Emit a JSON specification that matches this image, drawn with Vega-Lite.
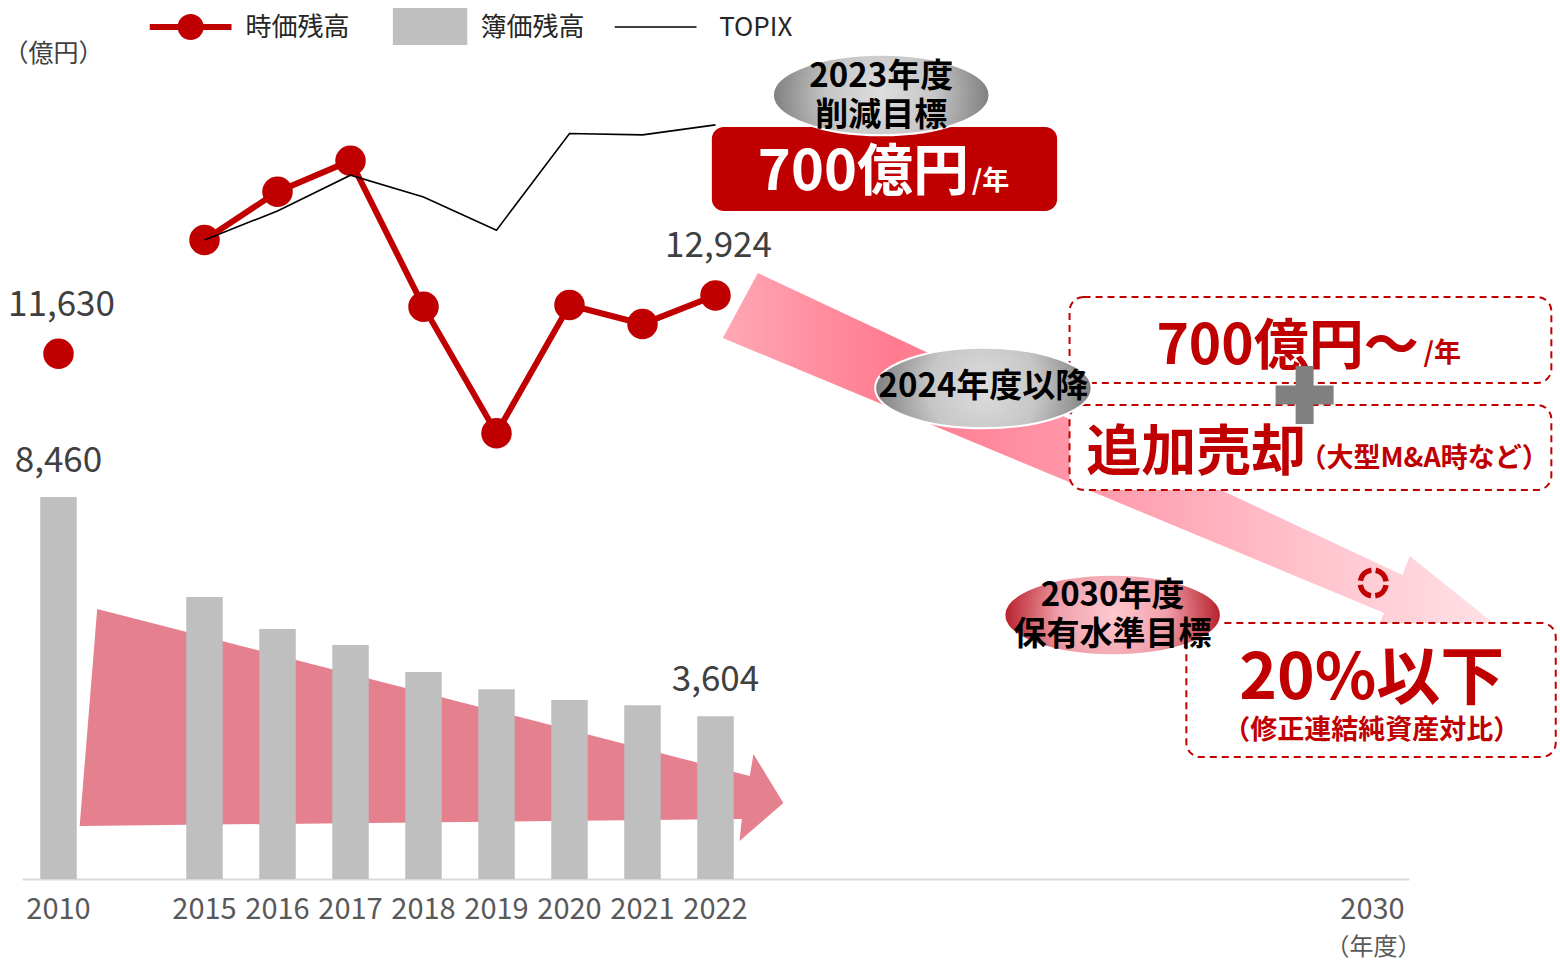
{
  "$schema": "https://vega.github.io/schema/vega-lite/v6.json",
  "width": 1387,
  "height": 858,
  "autosize": {"type": "none"},
  "padding": {"left": 22, "top": 21, "right": 151, "bottom": 82},
  "background": "white",
  "config": {"view": {"stroke": null}, "font": "Noto Sans CJK JP"},
  "datasets": {
    "fy": [
      {"year": "2010", "market": 11630, "book": 8460},
      {"year": "2015", "market": 14151, "book": 6245, "topix": 1347.2},
      {"year": "2016", "market": 15220, "book": 5536, "topix": 1512.6},
      {"year": "2017", "market": 15907, "book": 5182, "topix": 1716.3},
      {"year": "2018", "market": 12674, "book": 4584, "topix": 1591.64},
      {"year": "2019", "market": 9870, "book": 4201, "topix": 1403.04},
      {"year": "2020", "market": 12711, "book": 3964, "topix": 1954.0},
      {"year": "2021", "market": 12290, "book": 3847, "topix": 1946.4},
      {"year": "2022", "market": 12924, "book": 3604, "topix": 2003.5}
    ],
    "legendRedLine": [{"series": "時価残高", "x": 1.25, "x2": 2.37, "v": 18868}],
    "legendBlackLine": [{"series": "TOPIX", "x": 7.62, "x2": 8.74, "v": 18868}],
    "legendDot": [{"series": "時価残高", "x": 1.81, "v": 18868}],
    "legendRect": [{"series": "簿価残高", "x": 4.58, "x2": 5.60, "v": 19288, "v2": 18469}],
    "legendText": [
      {"x": 2.56, "v": 18846, "t": "時価残高"},
      {"x": 5.78, "v": 18846, "t": "簿価残高"},
      {"x": 9.05, "v": 18846, "t": "TOPIX"}
    ],
    "bgArrow": [
      {"i": 1, "x": 0.53, "v": 5979},
      {"i": 2, "x": 9.47, "v": 2281},
      {"i": 3, "x": 9.52, "v": 2768},
      {"i": 4, "x": 9.93, "v": 1683},
      {"i": 5, "x": 9.33, "v": 842},
      {"i": 6, "x": 9.36, "v": 1329},
      {"i": 7, "x": 0.29, "v": 1174}
    ],
    "diagArrow": [
      {"i": 1, "x": 9.58, "v": 13420},
      {"i": 2, "x": 18.41, "v": 6732},
      {"i": 3, "x": 18.51, "v": 7153},
      {"i": 4, "x": 19.81, "v": 5470},
      {"i": 5, "x": 17.99, "v": 5293},
      {"i": 6, "x": 18.16, "v": 5891},
      {"i": 7, "x": 9.10, "v": 11980}
    ],
    "redBox": [{"x": 8.95, "x2": 13.68, "v": 16653, "v2": 14793}],
    "dashBoxes": [
      {"x": 13.85, "x2": 20.45, "v": 12888, "v2": 10984},
      {"x": 13.85, "x2": 20.45, "v": 10497, "v2": 8614},
      {"x": 15.45, "x2": 20.51, "v": 5669, "v2": 2702}
    ],
    "greyEllipses": [{"x": 11.27, "v": 17362}, {"x": 12.67, "v": 10873}],
    "redEllipse": [{"x": 14.44, "v": 5846}],
    "ellipseText": [
      {"x": 11.27, "v": 17760, "t": "2023年度\n削減目標"},
      {"x": 12.67, "v": 10895, "t": "2024年度以降"},
      {"x": 14.44, "v": 6267, "t": "2030年度\n保有水準目標"}
    ],
    "whiteBig": [{"x": 9.58, "v": 15258, "t": "700億円"}],
    "whiteSmall": [{"x": 12.51, "v": 15258, "t": "/年"}],
    "redBig": [
      {"x": 15.04, "v": 11405, "t": "700億円～"},
      {"x": 14.08, "v": 9057, "t": "追加売却"}
    ],
    "redSmall": [
      {"x": 18.70, "v": 11449, "t": "/年"},
      {"x": 17.0, "v": 9124, "t": "（大型M&A時など）"}
    ],
    "redNote": [{"x": 17.99, "v": 3278, "t": "（修正連結純資産対比）"}],
    "target": [{"x": 17.99, "v": 3986, "t": "20%以下"}],
    "plus": [{"x": 17.07, "v": 10718}],
    "ring": [{"x": 18.01, "v": 6555}]
  },
  "resolve": {"scale": {"x": "independent", "y": "independent"}},
  "layer": [
    {
      "data": {"name": "bgArrow"},
      "mark": {"type": "line", "fill": "#E5808F", "stroke": null, "interpolate": "linear"},
      "encoding": {
        "x": {"field": "x", "type": "quantitative", "scale": {"domain": [-0.5, 18.5], "nice": false, "zero": false}, "axis": null},
        "y": {"field": "v", "type": "quantitative", "scale": {"domain": [0, 19000], "nice": false, "zero": false}, "axis": null},
        "order": {"field": "i", "type": "quantitative"}
      }
    },
    {
      "data": {"name": "fy"},
      "mark": {"type": "bar", "color": "#BFBFBF"},
      "encoding": {
        "x": {
          "field": "year", "type": "ordinal",
          "scale": {"domain": ["2010", "_1", "2015", "2016", "2017", "2018", "2019", "2020", "2021", "2022", "_2", "_3", "_4", "_5", "_6", "_7", "_8", "_9", "2030"], "paddingInner": 0.5, "paddingOuter": 0.25},
          "axis": {
            "labelExpr": "indexof(datum.label, '_') === 0 ? '' : datum.label",
            "ticks": false, "tickSize": 0, "grid": false,
            "domainColor": "#D9D9D9", "domainWidth": 2,
            "labelFont": "Noto Sans CJK JP", "labelFontSize": 29, "labelColor": "#595959", "labelPadding": 16, "labelAngle": 0, "labelOverlap": false, "labelBound": false,
            "title": "（年度）", "titleX": 1351, "titleY": 68, "titleFont": "Noto Sans CJK JP", "titleFontSize": 24, "titleFontWeight": "normal", "titleColor": "#595959", "titleAlign": "center", "titleBaseline": "middle"
          }
        },
        "y": {
          "field": "book", "type": "quantitative",
          "scale": {"domain": [0, 19000], "nice": false, "zero": false},
          "axis": {
            "title": "（億円）", "labels": false, "ticks": false, "domain": false, "grid": false,
            "titleAngle": 0, "titleX": 31, "titleY": 32, "titleFont": "Noto Sans CJK JP", "titleFontSize": 25, "titleFontWeight": "normal", "titleColor": "#404040", "titleAlign": "center", "titleBaseline": "middle"
          }
        }
      }
    },
    {
      "data": {"name": "fy"},
      "transform": [{"filter": "datum.year !== '2010'"}],
      "mark": {"type": "line", "strokeWidth": 6, "color": "#C00000"},
      "encoding": {
        "x": {"field": "year", "type": "ordinal", "scale": {"domain": ["2010", "_1", "2015", "2016", "2017", "2018", "2019", "2020", "2021", "2022", "_2", "_3", "_4", "_5", "_6", "_7", "_8", "_9", "2030"], "paddingInner": 0.5, "paddingOuter": 0.25}, "axis": null},
        "y": {"field": "market", "type": "quantitative", "scale": {"domain": [0, 19000], "nice": false, "zero": false}, "axis": null}
      }
    },
    {
      "data": {"name": "fy"},
      "mark": {"type": "point", "filled": true, "size": 930, "opacity": 1, "strokeWidth": 0, "color": "#C00000"},
      "encoding": {
        "x": {"field": "year", "type": "ordinal", "scale": {"domain": ["2010", "_1", "2015", "2016", "2017", "2018", "2019", "2020", "2021", "2022", "_2", "_3", "_4", "_5", "_6", "_7", "_8", "_9", "2030"], "paddingInner": 0.5, "paddingOuter": 0.25}, "axis": null},
        "y": {"field": "market", "type": "quantitative", "scale": {"domain": [0, 19000], "nice": false, "zero": false}, "axis": null}
      }
    },
    {
      "data": {"name": "fy"},
      "transform": [{"filter": "isValid(datum.topix)"}],
      "mark": {"type": "line", "strokeWidth": 1.6, "color": "#000000"},
      "encoding": {
        "x": {"field": "year", "type": "ordinal", "scale": {"domain": ["2010", "_1", "2015", "2016", "2017", "2018", "2019", "2020", "2021", "2022", "_2", "_3", "_4", "_5", "_6", "_7", "_8", "_9", "2030"], "paddingInner": 0.5, "paddingOuter": 0.25}, "axis": null},
        "y": {"field": "topix", "type": "quantitative", "scale": {"domain": [-2298, 2596], "nice": false, "zero": false}, "axis": null}
      }
    },
    {
      "data": {"name": "fy"},
      "transform": [{"filter": "datum.year === '2010' || datum.year === '2022'"}],
      "mark": {"type": "text", "font": "Noto Sans CJK JP", "fontSize": 35, "color": "#404040", "baseline": "middle", "dy": -49, "dx": 3},
      "encoding": {
        "x": {"field": "year", "type": "ordinal", "scale": {"domain": ["2010", "_1", "2015", "2016", "2017", "2018", "2019", "2020", "2021", "2022", "_2", "_3", "_4", "_5", "_6", "_7", "_8", "_9", "2030"], "paddingInner": 0.5, "paddingOuter": 0.25}, "axis": null},
        "y": {"field": "market", "type": "quantitative", "scale": {"domain": [0, 19000], "nice": false, "zero": false}, "axis": null},
        "text": {"field": "market", "type": "quantitative", "format": ","}
      }
    },
    {
      "data": {"name": "fy"},
      "transform": [{"filter": "datum.year === '2010' || datum.year === '2022'"}],
      "mark": {"type": "text", "font": "Noto Sans CJK JP", "fontSize": 35, "color": "#404040", "baseline": "middle", "dy": -36},
      "encoding": {
        "x": {"field": "year", "type": "ordinal", "scale": {"domain": ["2010", "_1", "2015", "2016", "2017", "2018", "2019", "2020", "2021", "2022", "_2", "_3", "_4", "_5", "_6", "_7", "_8", "_9", "2030"], "paddingInner": 0.5, "paddingOuter": 0.25}, "axis": null},
        "y": {"field": "book", "type": "quantitative", "scale": {"domain": [0, 19000], "nice": false, "zero": false}, "axis": null},
        "text": {"field": "book", "type": "quantitative", "format": ","}
      }
    },
    {
      "data": {"name": "legendRedLine"},
      "mark": {"type": "rule", "color": "#C00000", "strokeWidth": 6},
      "encoding": {
        "x": {"field": "x", "type": "quantitative", "scale": {"domain": [-0.5, 18.5], "nice": false, "zero": false}, "axis": null},
        "x2": {"field": "x2"},
        "y": {"field": "v", "type": "quantitative", "scale": {"domain": [0, 19000], "nice": false, "zero": false}, "axis": null}
      }
    },
    {
      "data": {"name": "legendBlackLine"},
      "mark": {"type": "rule", "color": "#000000", "strokeWidth": 1.6},
      "encoding": {
        "x": {"field": "x", "type": "quantitative", "scale": {"domain": [-0.5, 18.5], "nice": false, "zero": false}, "axis": null},
        "x2": {"field": "x2"},
        "y": {"field": "v", "type": "quantitative", "scale": {"domain": [0, 19000], "nice": false, "zero": false}, "axis": null}
      }
    },
    {
      "data": {"name": "legendDot"},
      "mark": {"type": "point", "filled": true, "opacity": 1, "size": 676, "strokeWidth": 0, "color": "#C00000"},
      "encoding": {
        "x": {"field": "x", "type": "quantitative", "scale": {"domain": [-0.5, 18.5], "nice": false, "zero": false}, "axis": null},
        "y": {"field": "v", "type": "quantitative", "scale": {"domain": [0, 19000], "nice": false, "zero": false}, "axis": null}
      }
    },
    {
      "data": {"name": "legendRect"},
      "mark": {"type": "rect", "color": "#BFBFBF"},
      "encoding": {
        "x": {"field": "x", "type": "quantitative", "scale": {"domain": [-0.5, 18.5], "nice": false, "zero": false}, "axis": null},
        "x2": {"field": "x2"},
        "y": {"field": "v", "type": "quantitative", "scale": {"domain": [0, 19000], "nice": false, "zero": false}, "axis": null},
        "y2": {"field": "v2"}
      }
    },
    {
      "data": {"name": "legendText"},
      "mark": {"type": "text", "font": "Noto Sans CJK JP", "fontSize": 26, "color": "#262626", "align": "left", "baseline": "middle"},
      "encoding": {
        "x": {"field": "x", "type": "quantitative", "scale": {"domain": [-0.5, 18.5], "nice": false, "zero": false}, "axis": null},
        "y": {"field": "v", "type": "quantitative", "scale": {"domain": [0, 19000], "nice": false, "zero": false}, "axis": null},
        "text": {"field": "t"}
      }
    },
    {
      "data": {"name": "diagArrow"},
      "mark": {
        "type": "line", "stroke": null, "interpolate": "linear",
        "fill": {"gradient": "linear", "x1": 0, "y1": 0, "x2": 1, "y2": 0, "stops": [
          {"offset": 0, "color": "#FFA8B5"},
          {"offset": 0.22, "color": "#FF7A8F"},
          {"offset": 0.5, "color": "#FF9DAE"},
          {"offset": 0.75, "color": "#FFC3CD"},
          {"offset": 1, "color": "#FFE3E8"}
        ]}
      },
      "encoding": {
        "x": {"field": "x", "type": "quantitative", "scale": {"domain": [-0.5, 18.5], "nice": false, "zero": false}, "axis": null},
        "y": {"field": "v", "type": "quantitative", "scale": {"domain": [0, 19000], "nice": false, "zero": false}, "axis": null},
        "order": {"field": "i", "type": "quantitative"}
      }
    },
    {
      "data": {"name": "redBox"},
      "mark": {"type": "rect", "fill": "#C00000", "cornerRadius": 12},
      "encoding": {
        "x": {"field": "x", "type": "quantitative", "scale": {"domain": [-0.5, 18.5], "nice": false, "zero": false}, "axis": null},
        "x2": {"field": "x2"},
        "y": {"field": "v", "type": "quantitative", "scale": {"domain": [0, 19000], "nice": false, "zero": false}, "axis": null},
        "y2": {"field": "v2"}
      }
    },
    {
      "data": {"name": "dashBoxes"},
      "mark": {"type": "rect", "fill": "white", "stroke": "#C00000", "strokeWidth": 2, "strokeDash": [7, 5], "cornerRadius": 14},
      "encoding": {
        "x": {"field": "x", "type": "quantitative", "scale": {"domain": [-0.5, 18.5], "nice": false, "zero": false}, "axis": null},
        "x2": {"field": "x2"},
        "y": {"field": "v", "type": "quantitative", "scale": {"domain": [0, 19000], "nice": false, "zero": false}, "axis": null},
        "y2": {"field": "v2"}
      }
    },
    {
      "data": {"name": "greyEllipses"},
      "mark": {
        "type": "point", "filled": true, "opacity": 1, "size": 46900,
        "shape": "M-1,0A1,0.372 0 1,1 1,0A1,0.372 0 1,1 -1,0Z",
        "fill": {"gradient": "radial", "stops": [{"offset": 0, "color": "#DEDEDE"}, {"offset": 0.5, "color": "#C6C6C6"}, {"offset": 1, "color": "#7F7F7F"}]},
        "stroke": "white", "strokeWidth": 2
      },
      "encoding": {
        "x": {"field": "x", "type": "quantitative", "scale": {"domain": [-0.5, 18.5], "nice": false, "zero": false}, "axis": null},
        "y": {"field": "v", "type": "quantitative", "scale": {"domain": [0, 19000], "nice": false, "zero": false}, "axis": null}
      }
    },
    {
      "data": {"name": "redEllipse"},
      "mark": {
        "type": "point", "filled": true, "opacity": 1, "size": 46900,
        "shape": "M-1,0A1,0.372 0 1,1 1,0A1,0.372 0 1,1 -1,0Z",
        "fill": {"gradient": "radial", "stops": [{"offset": 0, "color": "#FFC9D1"}, {"offset": 0.5, "color": "#F0A0AA"}, {"offset": 1, "color": "#B7202B"}]},
        "stroke": "white", "strokeWidth": 2
      },
      "encoding": {
        "x": {"field": "x", "type": "quantitative", "scale": {"domain": [-0.5, 18.5], "nice": false, "zero": false}, "axis": null},
        "y": {"field": "v", "type": "quantitative", "scale": {"domain": [0, 19000], "nice": false, "zero": false}, "axis": null}
      }
    },
    {
      "data": {"name": "ellipseText"},
      "mark": {"type": "text", "font": "Noto Sans CJK JP", "fontWeight": "bold", "fontSize": 33, "color": "#000000", "align": "center", "baseline": "middle", "lineBreak": "\n", "lineHeight": 39},
      "encoding": {
        "x": {"field": "x", "type": "quantitative", "scale": {"domain": [-0.5, 18.5], "nice": false, "zero": false}, "axis": null},
        "y": {"field": "v", "type": "quantitative", "scale": {"domain": [0, 19000], "nice": false, "zero": false}, "axis": null},
        "text": {"field": "t"}
      }
    },
    {
      "data": {"name": "whiteBig"},
      "mark": {"type": "text", "font": "Noto Sans CJK JP", "fontWeight": "bold", "fontSize": 56, "color": "white", "align": "left", "baseline": "alphabetic"},
      "encoding": {
        "x": {"field": "x", "type": "quantitative", "scale": {"domain": [-0.5, 18.5], "nice": false, "zero": false}, "axis": null},
        "y": {"field": "v", "type": "quantitative", "scale": {"domain": [0, 19000], "nice": false, "zero": false}, "axis": null},
        "text": {"field": "t"}
      }
    },
    {
      "data": {"name": "whiteSmall"},
      "mark": {"type": "text", "font": "Noto Sans CJK JP", "fontWeight": "bold", "fontSize": 27, "color": "white", "align": "left", "baseline": "alphabetic"},
      "encoding": {
        "x": {"field": "x", "type": "quantitative", "scale": {"domain": [-0.5, 18.5], "nice": false, "zero": false}, "axis": null},
        "y": {"field": "v", "type": "quantitative", "scale": {"domain": [0, 19000], "nice": false, "zero": false}, "axis": null},
        "text": {"field": "t"}
      }
    },
    {
      "data": {"name": "redBig"},
      "mark": {"type": "text", "font": "Noto Sans CJK JP", "fontWeight": "bold", "fontSize": 55, "color": "#C00000", "align": "left", "baseline": "alphabetic"},
      "encoding": {
        "x": {"field": "x", "type": "quantitative", "scale": {"domain": [-0.5, 18.5], "nice": false, "zero": false}, "axis": null},
        "y": {"field": "v", "type": "quantitative", "scale": {"domain": [0, 19000], "nice": false, "zero": false}, "axis": null},
        "text": {"field": "t"}
      }
    },
    {
      "data": {"name": "redSmall"},
      "mark": {"type": "text", "font": "Noto Sans CJK JP", "fontWeight": "bold", "fontSize": 27, "color": "#C00000", "align": "left", "baseline": "alphabetic"},
      "encoding": {
        "x": {"field": "x", "type": "quantitative", "scale": {"domain": [-0.5, 18.5], "nice": false, "zero": false}, "axis": null},
        "y": {"field": "v", "type": "quantitative", "scale": {"domain": [0, 19000], "nice": false, "zero": false}, "axis": null},
        "text": {"field": "t"}
      }
    },
    {
      "data": {"name": "redNote"},
      "mark": {"type": "text", "font": "Noto Sans CJK JP", "fontWeight": "bold", "fontSize": 27, "color": "#C00000", "align": "center", "baseline": "middle"},
      "encoding": {
        "x": {"field": "x", "type": "quantitative", "scale": {"domain": [-0.5, 18.5], "nice": false, "zero": false}, "axis": null},
        "y": {"field": "v", "type": "quantitative", "scale": {"domain": [0, 19000], "nice": false, "zero": false}, "axis": null},
        "text": {"field": "t"}
      }
    },
    {
      "data": {"name": "target"},
      "mark": {"type": "text", "font": "Noto Sans CJK JP", "fontWeight": "bold", "fontSize": 64, "color": "#C00000", "align": "center", "baseline": "alphabetic"},
      "encoding": {
        "x": {"field": "x", "type": "quantitative", "scale": {"domain": [-0.5, 18.5], "nice": false, "zero": false}, "axis": null},
        "y": {"field": "v", "type": "quantitative", "scale": {"domain": [0, 19000], "nice": false, "zero": false}, "axis": null},
        "text": {"field": "t"}
      }
    },
    {
      "data": {"name": "plus"},
      "mark": {"type": "point", "filled": true, "opacity": 1, "size": 3364, "color": "#808080", "strokeWidth": 0,
        "shape": "M-0.31,-1H0.31V-0.33H1V0.33H0.31V1H-0.31V0.33H-1V-0.33H-0.31Z"},
      "encoding": {
        "x": {"field": "x", "type": "quantitative", "scale": {"domain": [-0.5, 18.5], "nice": false, "zero": false}, "axis": null},
        "y": {"field": "v", "type": "quantitative", "scale": {"domain": [0, 19000], "nice": false, "zero": false}, "axis": null}
      }
    },
    {
      "data": {"name": "ring"},
      "mark": {"type": "point", "shape": "circle", "filled": false, "opacity": 1, "size": 676, "color": "#C00000", "strokeWidth": 5.5, "strokeDash": [16, 4.4], "strokeDashOffset": 18.2},
      "encoding": {
        "x": {"field": "x", "type": "quantitative", "scale": {"domain": [-0.5, 18.5], "nice": false, "zero": false}, "axis": null},
        "y": {"field": "v", "type": "quantitative", "scale": {"domain": [0, 19000], "nice": false, "zero": false}, "axis": null}
      }
    }
  ]
}
